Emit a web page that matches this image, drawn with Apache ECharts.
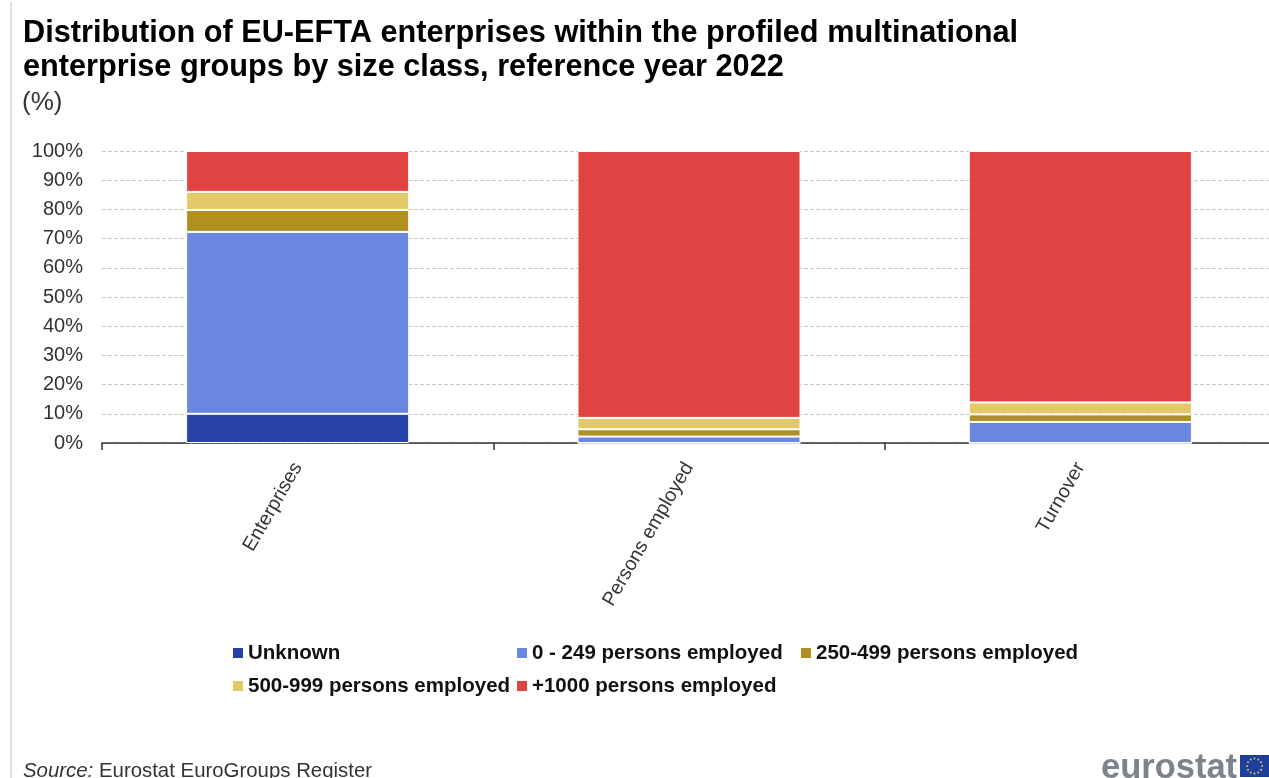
<!DOCTYPE html>
<html><head><meta charset="utf-8">
<style>html,body{margin:0;padding:0;background:#fff}#c{width:1269px;height:778px}</style>
<script src="https://cdn.jsdelivr.net/npm/echarts@6/dist/echarts.min.js"></script>
</head><body><div id="c"></div>
<script>
const categories = ['Enterprises', 'Persons employed', 'Turnover'];
const seriesNames = ['Unknown', '0 - 249 persons employed', '250-499 persons employed', '500-999 persons employed', '+1000 persons employed'];
const unknown = [10, 0, 0];
const small = [62.3, 2.2, 7.2];
const medium = [7.5, 2.5, 2.6];
const large = [6.2, 3.9, 4.1];
const veryLarge = [14, 91.4, 86.1];
const seriesValues = [unknown, small, medium, large, veryLarge];
const colors = ['#2742a6', '#6a86e0', '#b09020', '#e2c866', '#e14242'];
const legendSpots = [[233, 642], [517, 642], [801, 642], [233, 675], [517, 675]];

const font = '"Liberation Sans", Arial, sans-serif';
const chart = echarts.init(document.getElementById('c'), null, {renderer: 'canvas'});

const stars = [];
for (let i = 0; i < 12; i++) {
  const a = i * Math.PI / 6;
  stars.push({type: 'circle', shape: {cx: 1254.5 + 7.5 * Math.cos(a), cy: 766 + 7.5 * Math.sin(a), r: 0.9}, style: {fill: '#e8d23a'}});
}

chart.setOption({
  animation: false,
  backgroundColor: '#fff',
  title: [
    {text: 'Distribution of EU-EFTA enterprises within the profiled multinational\nenterprise groups by size class, reference year 2022',
     left: 23, top: 17, padding: 0, textStyle: {fontFamily: font, fontSize: 30.7, fontWeight: 'bold', color: '#000', lineHeight: 34}},
    {text: '(%)', left: 22, top: 90, padding: 0, textStyle: {fontFamily: font, fontSize: 26, fontWeight: 'normal', color: '#333'}},
    {text: '{i|Source:} Eurostat EuroGroups Register', left: 23, top: 761, padding: 0,
     textStyle: {fontFamily: font, fontSize: 20.4, fontWeight: 'normal', color: '#333',
       rich: {i: {fontFamily: font, fontSize: 20.4, fontStyle: 'italic', color: '#333'}}}},
    {text: 'eurostat', left: 1101, top: 751, padding: 0, textStyle: {fontFamily: font, fontSize: 34.5, fontWeight: 'bold', color: '#7d828c'}}
  ],
  legend: seriesNames.map((n, i) => ({
    data: [n], left: legendSpots[i][0], top: legendSpots[i][1], orient: 'horizontal',
    itemWidth: 10, itemHeight: 10, itemGap: 0, icon: 'rect', selectedMode: false,
    itemStyle: {borderWidth: 0},
    padding: 0, textStyle: {fontFamily: font, fontSize: 20.5, fontWeight: 'bold', color: '#111', padding: 0, lineHeight: 22}
  })),
  grid: {left: 102, top: 151, width: 1174, height: 292, containLabel: false, outerBoundsMode: 'none'},
  xAxis: {
    type: 'category', data: categories,
    axisLine: {lineStyle: {color: '#333', width: 1.5}},
    axisTick: {show: true, length: 7, alignWithLabel: false, lineStyle: {color: '#333', width: 1.5}},
    axisLabel: {rotate: 60, fontFamily: font, fontSize: 19.6, color: '#333', margin: 21, interval: 0}
  },
  yAxis: {
    type: 'value', min: 0, max: 100, interval: 10,
    axisLine: {show: false}, axisTick: {show: false},
    splitLine: {lineStyle: {color: '#c6c6c6', type: 'dashed', width: 1}},
    axisLabel: {fontFamily: font, fontSize: 20, color: '#333', margin: 19, padding: [0, 0, 2, 0], formatter: '{value}%'}
  },
  series: seriesNames.map((n, i) => ({
    name: n, type: 'bar', stack: 'total', data: seriesValues[i], barWidth: '57%',
    itemStyle: {color: colors[i], borderColor: '#fff', borderWidth: 1}
  })),
  color: colors,
  graphic: [
    {type: 'line', shape: {x1: 11, y1: 2, x2: 11, y2: 778}, style: {stroke: '#c4c4c4', lineWidth: 1}},
    {type: 'rect', shape: {x: 1240, y: 755, width: 29, height: 22}, style: {fill: '#1f3f9e'}},
    ...stars
  ]
});
</script></body></html>
